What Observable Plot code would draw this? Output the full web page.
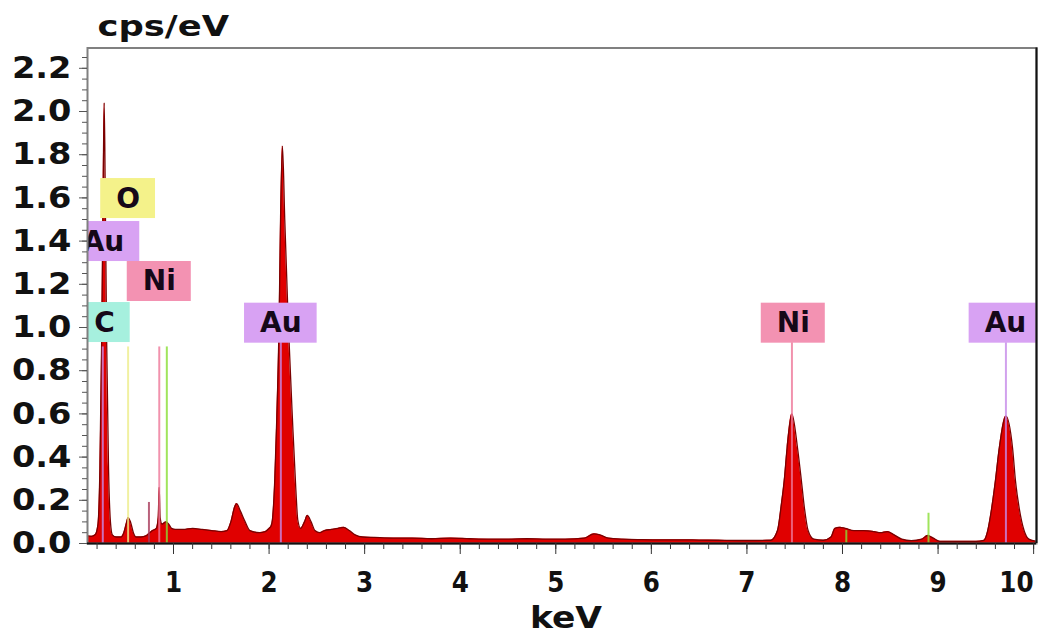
<!DOCTYPE html>
<html><head><meta charset="utf-8">
<script src="https://cdn.jsdelivr.net/npm/d3@7"></script>
<script src="https://cdn.jsdelivr.net/npm/@observablehq/plot@0.6"></script>
<style>html,body{margin:0;padding:0;background:#fff}</style>
</head><body><div id="chart"></div>
<script>
// EDS spectrum (keV, cps/eV)
const energy = [0.10,0.14,0.18,0.21,0.23,0.25,0.265,0.275,0.285,0.30,0.32,0.34,0.36,0.40,0.45,0.48,0.51,0.525,0.55,0.58,0.61,0.66,0.71,0.74,0.78,0.82,0.84,0.85,0.86,0.88,0.92,0.95,0.98,1.02,1.10,1.20,1.30,1.40,1.50,1.56,1.60,1.64,1.66,1.70,1.75,1.80,1.90,1.96,2.00,2.02,2.035,2.06,2.08,2.105,2.12,2.14,2.164,2.20,2.245,2.28,2.30,2.33,2.37,2.40,2.44,2.48,2.53,2.58,2.65,2.72,2.78,2.84,2.90,2.98,3.10,3.30,3.50,3.70,3.90,4.10,4.30,4.50,4.70,4.90,5.10,5.30,5.40,5.46,5.55,5.70,5.90,6.10,6.30,6.50,6.70,6.90,7.10,7.25,7.32,7.36,7.39,7.42,7.47,7.53,7.57,7.60,7.64,7.70,7.80,7.88,7.92,7.97,8.03,8.12,8.22,8.33,8.40,8.47,8.54,8.62,8.72,8.83,8.89,8.95,9.02,9.20,9.40,9.48,9.52,9.56,9.60,9.64,9.71,9.78,9.81,9.85,9.90,9.95,10.03];
const counts = [0.035,0.033,0.04,0.09,0.35,1.00,1.70,2.04,1.65,0.95,0.35,0.10,0.04,0.03,0.03,0.05,0.10,0.12,0.10,0.05,0.03,0.03,0.035,0.045,0.06,0.07,0.12,0.26,0.12,0.09,0.10,0.09,0.07,0.065,0.065,0.07,0.065,0.06,0.055,0.06,0.10,0.17,0.185,0.15,0.10,0.06,0.05,0.055,0.07,0.08,0.11,0.30,0.57,1.03,1.50,1.84,1.50,1.03,0.57,0.25,0.11,0.07,0.10,0.13,0.10,0.06,0.05,0.06,0.065,0.07,0.075,0.06,0.04,0.03,0.028,0.025,0.025,0.022,0.025,0.022,0.02,0.02,0.022,0.02,0.02,0.025,0.045,0.04,0.025,0.02,0.018,0.017,0.017,0.016,0.015,0.014,0.014,0.015,0.06,0.18,0.29,0.44,0.60,0.44,0.29,0.17,0.06,0.02,0.015,0.03,0.07,0.075,0.07,0.06,0.06,0.055,0.05,0.055,0.04,0.02,0.013,0.02,0.037,0.025,0.01,0.01,0.01,0.015,0.06,0.16,0.29,0.44,0.59,0.44,0.29,0.16,0.06,0.02,0.01];

// element line markers
const markerElement = ["Au","C","O","NiL","Ni","Cu","Au","Ni","Cu","Cu","Au"];
const markerEnergy  = [0.26,0.277,0.525,0.743,0.851,0.93,2.123,7.471,8.04,8.90,9.71];
const markerTop     = [0.91,0.91,0.91,0.19,0.91,0.91,0.93,0.93,0.06,0.14,0.93];

// element labels
const labelText   = ["O","Au","Ni","C","Au","Ni","Au"];
const labelEnergy = [0.525,0.267,0.851,0.277,2.123,7.485,9.705];
const labelY      = [1.597,1.398,1.213,1.023,1.02,1.02,1.02];

const yTicks = [0,0.2,0.4,0.6,0.8,1.0,1.2,1.4,1.6,1.8,2.0,2.2];
const xTicks = [1,2,3,4,5,6,7,8,9,10];

const lineColor = {Au:"#c58ae8", C:"#80e0d0", O:"#eeee8a", NiL:"#a83a5a", Ni:"#ee7799", Cu:"#88dd33"};
const boxColor  = {Au:"#d8a2f3", Ni:"#f392b2", O:"#f4f28a", C:"#a6f0de"};

const W = 1041, H = 633, mL = 87, mR = 5, mT = 47.5, mB = 90;
const xDomain = [0.1, 10.03], yDomain = [0, 2.294];
const pxPerKeV = (W - mL - mR) / (xDomain[1] - xDomain[0]);
const pxPerUnit = (H - mT - mB) / (yDomain[1] - yDomain[0]);

const spectrum = energy.map((e, i) => ({e, c: counts[i]}));
const markers = markerEnergy.map((e, i) => ({e, top: markerTop[i], el: markerElement[i]}));

const ctx = document.createElement("canvas").getContext("2d");
ctx.font = "bold 28px 'DejaVu Sans'";
const labels = labelText.map((t, i) => {
  const w = ctx.measureText(t).width + 31;
  return {t, e: labelEnergy[i], y: labelY[i], hw: w / 2 / pxPerKeV, hh: 20 / pxPerUnit};
});

const minorY = d3.range(0, 2.29, 0.05);
const minorX = d3.range(0.2, 10.01, 0.2);

const plot = Plot.plot({
  width: W, height: H,
  marginLeft: mL, marginRight: mR, marginTop: mT, marginBottom: mB,
  style: {fontFamily: "'DejaVu Sans', sans-serif", background: "#fff", color: "#111"},
  x: {domain: xDomain, label: null},
  y: {domain: yDomain, label: null},
  marks: [
    Plot.ruleX(markers.filter(d => d.el === "C"), {x: "e", y1: 0, y2: "top", stroke: lineColor.C, strokeWidth: 2}),
    Plot.areaY(spectrum, {x: "e", y: "c", fill: "#e00000", curve: "monotone-x"}),
    Plot.lineY(spectrum, {x: "e", y: "c", stroke: "#7a0000", strokeWidth: 1.3, curve: "monotone-x"}),
    Plot.ruleX(markers.filter(d => d.el !== "C"), {x: "e", y1: 0, y2: "top", stroke: d => lineColor[d.el], strokeWidth: 2, strokeOpacity: 0.8}),
    Plot.rect(labels, {x1: d => d.e - d.hw, x2: d => d.e + d.hw, y1: d => d.y - d.hh, y2: d => d.y + d.hh, fill: d => boxColor[d.t], clip: true}),
    Plot.text(labels, {x: "e", y: "y", text: "t", fontSize: 28, fontWeight: "bold", fill: "#150818", clip: true}),
    Plot.frame({stroke: "#808080", strokeWidth: 2}),
    Plot.ruleX([xDomain[1]], {stroke: "#111", strokeWidth: 2}),
    Plot.ruleY([0], {stroke: "#111", strokeWidth: 2}),
    Plot.axisY({ticks: minorY, tickSize: 5, text: null, stroke: "#555"}),
    Plot.axisY({ticks: yTicks, tickSize: 8, tickPadding: 8, tickFormat: d3.format(".1f"), fontSize: 30, fontWeight: "bold", label: null, stroke: "#555", fill: "#111"}),
    Plot.axisX({ticks: minorX, tickSize: 6, text: null, stroke: "#333"}),
    Plot.axisX({ticks: xTicks, tickSize: 11, tickPadding: 18, fontSize: 28, fontWeight: "bold", label: null, stroke: "#333", fill: "#111"}),
    Plot.text(["cps/eV"], {frameAnchor: "top-left", dx: 10, dy: -12.5, lineAnchor: "bottom", textAnchor: "start", fontSize: 29, fontWeight: "bold", fill: "#111"}),
    Plot.text(["keV"], {frameAnchor: "bottom", dx: 4, dy: 84, lineAnchor: "bottom", fontSize: 30, fontWeight: "bold", fill: "#111"})
  ]
});
document.getElementById("chart").appendChild(plot);

// widen the y tick labels and the unit label as in the reference lettering
plot.querySelectorAll('g[aria-label="y-axis tick label"] text').forEach(t => {
  const w = t.getComputedTextLength();
  t.setAttribute("textLength", w * 1.12);
  t.setAttribute("lengthAdjust", "spacingAndGlyphs");
});
// slightly narrower x tick labels; keep the last one inside the picture
plot.querySelectorAll('g[aria-label="x-axis tick label"] text').forEach(t => {
  const w = t.getComputedTextLength();
  t.setAttribute("textLength", w * 0.88);
  t.setAttribute("lengthAdjust", "spacingAndGlyphs");
  if (t.textContent === "10") {
    t.setAttribute("text-anchor", "end");
    t.setAttribute("dx", "0");
  }
});
plot.querySelectorAll('g[aria-label="text"] text').forEach(t => {
  if (t.textContent === "cps/eV" || t.textContent === "keV") {
    const w = t.getComputedTextLength();
    t.setAttribute("textLength", w * (t.textContent === "keV" ? 1.15 : 1.22));
    t.setAttribute("lengthAdjust", "spacingAndGlyphs");
  }
});
</script>
</body></html>
